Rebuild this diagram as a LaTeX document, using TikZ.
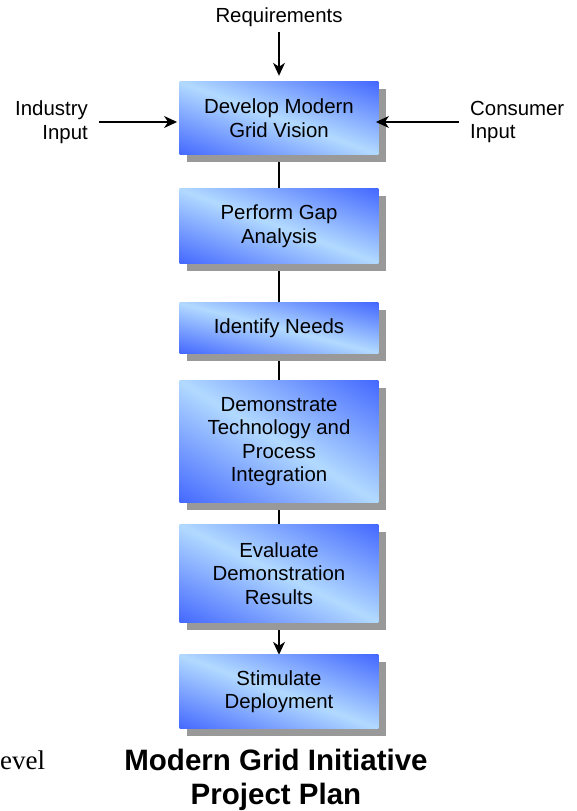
\documentclass[tikz,border=0pt]{standalone}
\usepackage{fontspec}
\setmainfont{Liberation Sans}
\newfontfamily\serifface{Liberation Serif}
\usetikzlibrary{arrows.meta,backgrounds}
\definecolor{boxdark}{RGB}{62,98,255}
\definecolor{boxlight}{RGB}{178,218,255}
\definecolor{shadowgray}{RGB}{153,153,153}
\begin{document}
\begin{tikzpicture}[x=1pt,y=-1pt,
  bodyfont/.style={font=\fontsize{20.4}{23.5}\selectfont},
  stepbox/.style={rectangle, minimum width=198.5pt, inner sep=2pt, align=center, bodyfont},
  txt/.style={inner sep=0pt, bodyfont},
  conn/.style={line width=1.3pt},
  arr/.style={conn, -{Stealth[length=13pt,width=12pt,inset=4pt]}}]
  \useasboundingbox (0,0) rectangle (577,811);

  % process steps (text and size; fill and shadow are drawn below them)
  \node[stepbox, minimum height=72.5pt] (b1) at (279,118.25) {Develop Modern\\Grid Vision};
  \node[stepbox, minimum height=74pt]   (b2) at (279,226)    {Perform Gap\\Analysis};
  \node[stepbox, minimum height=50pt]   (b3) at (279,328)    {Identify Needs};
  \node[stepbox, minimum height=121pt]  (b4) at (279,441.5)  {Demonstrate\\Technology and\\Process\\Integration};
  \node[stepbox, minimum height=97pt]   (b5) at (279,573.5)  {Evaluate\\Demonstration\\Results};
  \node[stepbox, minimum height=73.5pt] (b6) at (279,691.75) {Stimulate\\Deployment};

  % inputs
  \node[txt, anchor=base] (req) at (279,23) {Requirements};
  \node[txt, align=right, anchor=east] (ind) at (88,122) {Industry\\Input};
  \node[txt, align=left, anchor=west] (con) at (470,122) {Consumer\\Input};

  % caption
  \node[inner sep=0pt, anchor=base west, font=\serifface\fontsize{27}{30}\selectfont] (lev) at (0,769) {evel};
  \node[inner sep=0pt, align=center, font=\bfseries\fontsize{29.5}{33.5}\selectfont] (title) at (276,780)
    {Modern Grid Initiative\\Project Plan};

  \begin{scope}[on background layer]
    % connectors between steps
    \draw[conn] (b1) -- (b2);
    \draw[conn] (b2) -- (b3);
    \draw[conn] (b3) -- (b4);
    \draw[conn] (b4) -- (b5);
    \draw[arr] (b5) -- (b6);
    % box shadows and diagonal gradient fills
    \foreach \n/\h in {b1/72.5, b2/74, b3/50, b4/121, b5/97, b6/73.5} {
      \fill[shadowgray] ([shift={(7.5,7.5)}]\n.south west) rectangle ([shift={(7.5,7.5)}]\n.north east);
      \begin{scope}
        \clip (\n.south west) rectangle (\n.north east);
        \begin{scope}[transform canvas={shift={(\n.center)}, xscale=99.25, yscale=\h/2, rotate=-45}]
          \shade[top color=boxdark, bottom color=boxdark, middle color=boxlight]
            (-1.5,-1.5) rectangle (1.5,1.5);
        \end{scope}
      \end{scope}
    }
  \end{scope}

  % input arrows
  \draw[arr, shorten <=5pt, shorten >=6pt] (req) -- (b1);
  \draw[arr, shorten <=11pt, shorten >=2.5pt] (ind.east) -- (ind.east -| b1.west);
  \draw[arr, shorten <=11pt, shorten >=-2.5pt] (con.west) -- (con.west -| b1.east);
\end{tikzpicture}
\end{document}
